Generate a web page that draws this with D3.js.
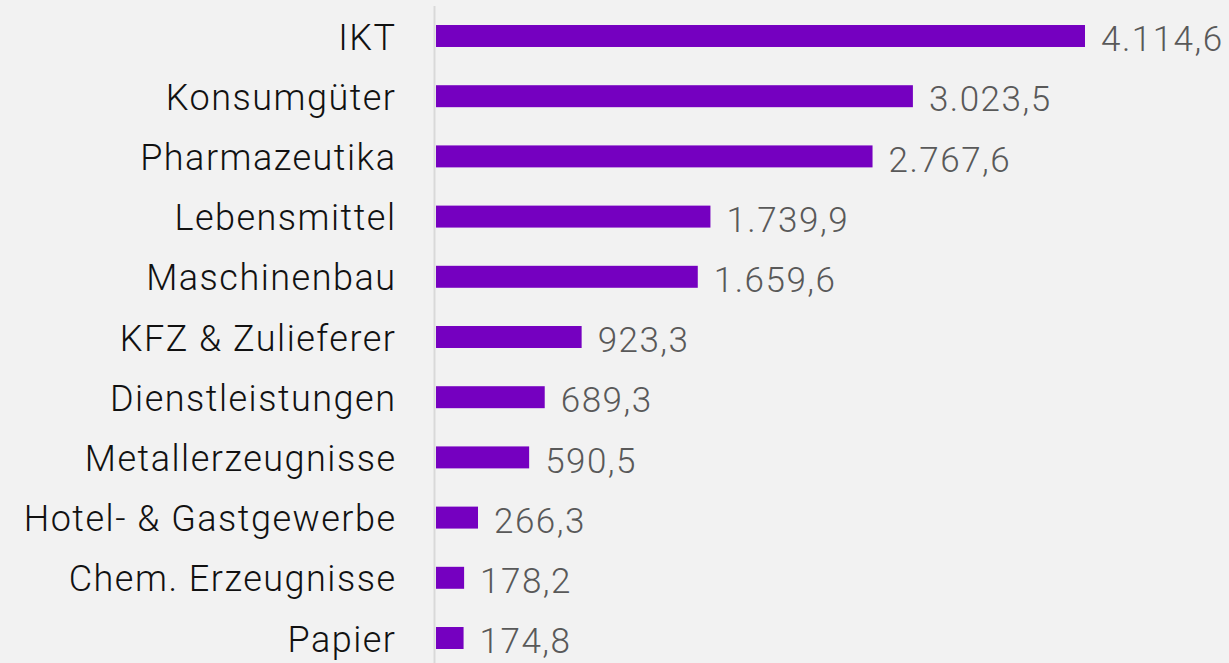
<!DOCTYPE html>
<html><head><meta charset="utf-8">
<script src="https://cdn.jsdelivr.net/npm/d3@7"></script>
<style>
html,body{margin:0;padding:0;background:#f2f2f2;}
svg{display:block;}
</style></head><body>
<svg id="c" width="1229" height="663"></svg>
<script>
const categories = ["IKT","Konsumgüter","Pharmazeutika","Lebensmittel","Maschinenbau","KFZ & Zulieferer","Dienstleistungen","Metallerzeugnisse","Hotel- & Gastgewerbe","Chem. Erzeugnisse","Papier"];
const values = [4114.6,3023.5,2767.6,1739.9,1659.6,923.3,689.3,590.5,266.3,178.2,174.8];

const W=1229,H=663;
const svg=d3.select("#c");
svg.append("rect").attr("width",W).attr("height",H).attr("fill","#f2f2f2");
const x0=436;
const x=d3.scaleLinear().domain([0,4114.6]).range([x0,1085]);
const y=d3.scaleBand().domain(categories).range([5.9,668.1]).paddingInner(0.635).paddingOuter(0.3175);
const loc=d3.formatLocale({decimal:",",thousands:".",grouping:[3],currency:["","€"]});
const fmt=loc.format(",.1f");
const font="Roboto, sans-serif";
const ls=1.5;

svg.append("line").attr("x1",434.5).attr("x2",434.5).attr("y1",6).attr("y2",H).attr("stroke","#d9d9d9").attr("stroke-width",2);

svg.selectAll("rect.bar").data(values).join("rect").attr("class","bar")
 .attr("x",x0).attr("y",(d,i)=>y(categories[i])).attr("width",d=>x(d)-x0).attr("height",y.bandwidth()).attr("fill","#7500c0");

svg.selectAll("text.cat").data(categories).join("text").attr("class","cat")
 .attr("x",395+ls).attr("y",d=>y(d)+y.bandwidth()/2+1).attr("dy","0.35em").attr("text-anchor","end")
 .attr("letter-spacing",ls)
 .attr("font-family",font).attr("font-weight",300).attr("font-size",36).attr("fill","#111").text(d=>d);

svg.selectAll("text.val").data(values).join("text").attr("class","val")
 .attr("x",d=>x(d)+16).attr("y",(d,i)=>y(categories[i])+y.bandwidth()/2+3).attr("dy","0.35em")
 .attr("letter-spacing",ls)
 .attr("font-family",font).attr("font-weight",300).attr("font-size",35).attr("fill","#595959").text(d=>fmt(d));
</script></body></html>
